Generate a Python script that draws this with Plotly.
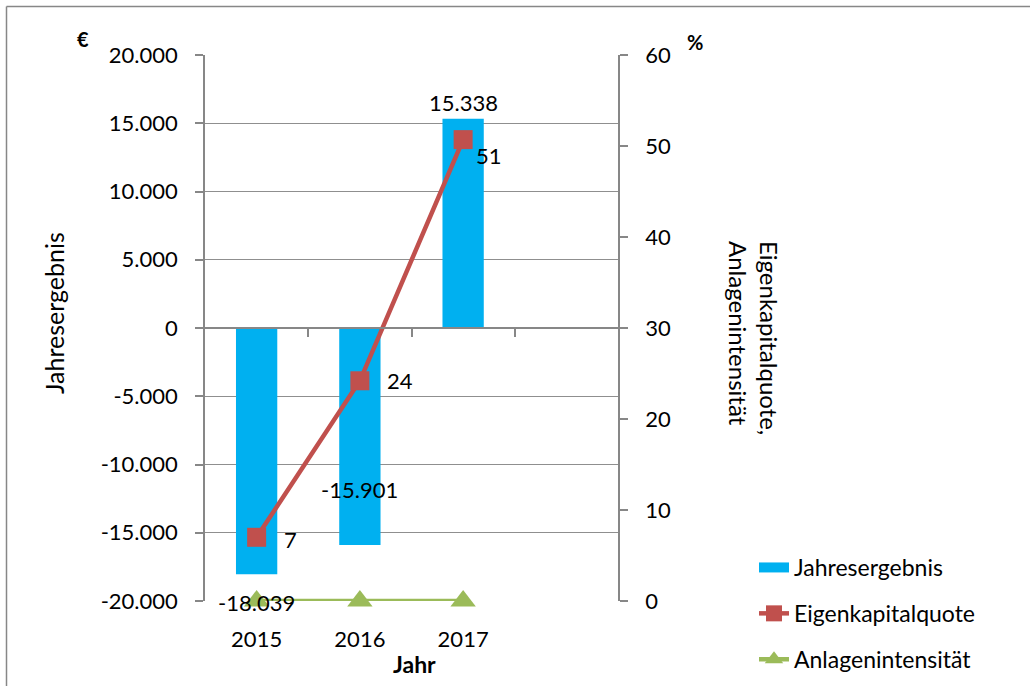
import plotly.graph_objects as go

# ---- data ----
years = ["2015", "2016", "2017"]
jahresergebnis = [-18039, -15901, 15338]
eigenkapitalquote = [7.0, 24.2, 50.7]
anlagenintensitaet = [0, 0, 0]
left_ticks = [-20000, -15000, -10000, -5000, 0, 5000, 10000, 15000, 20000]
right_ticks = [0, 10, 20, 30, 40, 50, 60]

def de_fmt(v):
    return f"{v:,}".replace(",", ".")

FONT = "Lato"
BLUE = "#00B0F0"
RED = "#C0504D"
GREEN = "#9BBB59"
GRID = "#8f8f8f"
AXIS = "#878787"

W, H = 1030, 686
L, R, T, B = 205, 618, 55, 601

def px_x(p):
    return (p - L) / (R - L)

def px_y(p):
    return (B - p) / (B - T)

fig = go.Figure()

fig.add_trace(go.Bar(
    x=years, y=jahresergebnis, name="Jahresergebnis",
    marker=dict(color=BLUE, line=dict(width=0)), width=0.4,
    showlegend=False, hoverinfo="x+y",
))
# legend swatch for bars (wide rectangle like the original)
fig.add_trace(go.Scatter(
    x=[None], y=[None], mode="lines", name="Jahresergebnis",
    line=dict(color=BLUE, width=13), legendgroup="a", legendrank=1,
))
fig.add_trace(go.Scatter(
    x=years, y=eigenkapitalquote, yaxis="y2", name="Eigenkapitalquote",
    mode="lines+markers",
    line=dict(color=RED, width=4.5),
    marker=dict(symbol="square", size=19, color=RED),
    cliponaxis=False, legendgroup="b", legendrank=2,
))
fig.add_trace(go.Scatter(
    x=years, y=anlagenintensitaet, yaxis="y2", name="Anlagenintensität",
    mode="lines+markers",
    line=dict(color=GREEN, width=4.5),
    marker=dict(symbol="triangle-up", size=22, color=GREEN),
    cliponaxis=False, legendgroup="c", legendrank=3,
))
# helper trace for the category axis drawn through zero
fig.add_trace(go.Scatter(x=[None], y=[None], xaxis="x3", yaxis="y",
                         showlegend=False, hoverinfo="skip"))

annotations = []
# bar value labels
bar_label_shift = [-28, 56, 16]
for i, (v, s) in enumerate(zip(jahresergebnis, bar_label_shift)):
    annotations.append(dict(
        x=i, y=v, xref="x", yref="y", text=de_fmt(v), showarrow=False,
        xanchor="center", yanchor="middle", yshift=s,
        font=dict(family=FONT, size=22, color="#000000"),
    ))
# line value labels
line_label_dx = [25, 25, 11]
line_label_dy = [-2, 0, -16]
for i, (v, dx, dy) in enumerate(zip(eigenkapitalquote, line_label_dx, line_label_dy)):
    annotations.append(dict(
        x=i, y=v, xref="x", yref="y2", text=f"{v:.0f}", showarrow=False,
        xanchor="left", yanchor="middle", xshift=dx, yshift=dy,
        font=dict(family=FONT, size=22, color="#000000"),
    ))

def paper_text(xp, yp, text, size, angle=0, align="center"):
    return dict(x=px_x(xp), y=px_y(yp), xref="paper", yref="paper", text=text,
                textangle=angle, align=align, showarrow=False,
                xanchor="center", yanchor="middle",
                font=dict(family=FONT, size=size, color="#000000"))

annotations += [
    paper_text(54, 313, "Jahresergebnis", 25, -90),
    paper_text(754, 338, "Eigenkapitalquote,<br>Anlagenintensität", 24, 90, "left"),
    paper_text(83, 39, "<b>€</b>", 20),
    paper_text(695, 42, "<b>%</b>", 20),
    paper_text(414, 664, "<b>Jahr</b>", 23),
]

shapes = [
    dict(type="line", xref="paper", yref="paper",
         x0=px_x(6.5), x1=px_x(6.5), y0=px_y(6.5), y1=px_y(720),
         line=dict(color=AXIS, width=1.5)),
    dict(type="line", xref="paper", yref="paper",
         x0=px_x(6.5), x1=px_x(1060), y0=px_y(6.5), y1=px_y(6.5),
         line=dict(color=AXIS, width=1.5)),
]

fig.update_layout(
    width=W, height=H,
    margin=dict(l=L, r=W - R, t=T, b=H - B, pad=0, autoexpand=False),
    paper_bgcolor="white", plot_bgcolor="white",
    font=dict(family=FONT, size=22, color="#000000"),
    bargap=0.6,
    xaxis=dict(
        type="category", categoryorder="array", categoryarray=years,
        range=[-0.5, 3.5], showgrid=False, zeroline=False, showline=False,
        ticks="outside", ticklen=19, tickcolor="rgba(0,0,0,0)",
        tickfont=dict(family=FONT, size=22),
    ),
    xaxis3=dict(
        overlaying="x", anchor="free", position=0.5, type="linear",
        range=[-0.5, 3.5], tickvals=[0.5, 1.5, 2.5], ticks="outside", ticklen=8,
        tickcolor=AXIS, tickwidth=1.5, showline=True, linecolor=AXIS, linewidth=1.5,
        showticklabels=False, showgrid=False, zeroline=False,
    ),
    yaxis=dict(
        range=[-20000, 20000], tickvals=left_ticks, ticktext=[de_fmt(v) for v in left_ticks],
        showgrid=True, gridcolor=GRID, gridwidth=1.2, zeroline=False,
        showline=True, linecolor=AXIS, linewidth=1.5,
        ticks="outside", ticklen=8, tickcolor=AXIS, tickwidth=1.5,
        ticklabelstandoff=13, tickfont=dict(family=FONT, size=22),
    ),
    yaxis2=dict(
        overlaying="y", side="right", anchor="x",
        range=[0, 60], tickvals=right_ticks, showgrid=False, zeroline=False,
        showline=True, linecolor=AXIS, linewidth=1.5,
        ticks="outside", ticklen=8, tickcolor=AXIS, tickwidth=1.5,
        ticklabelstandoff=13, tickfont=dict(family=FONT, size=22),
    ),
    legend=dict(
        x=px_x(754), y=px_y(546), xanchor="left", yanchor="top",
        font=dict(family=FONT, size=23, color="#000000"),
        traceorder="grouped", tracegroupgap=13, bgcolor="rgba(0,0,0,0)",
        itemsizing="trace",
    ),
    annotations=annotations,
    shapes=shapes,
)

fig.write_html("out.html")
